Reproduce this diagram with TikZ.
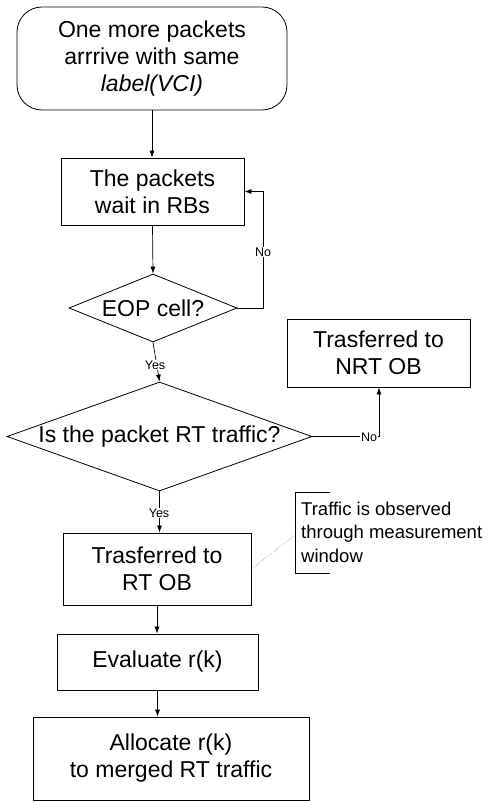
\documentclass[tikz,border=0pt]{standalone}
\usepackage{fontspec}
\setmainfont{Liberation Sans}
\usetikzlibrary{shapes.geometric,arrows.meta}
\newcommand\dgbox{\fontsize{23}{27}\selectfont}
\newcommand\dgtag{\fontsize{12.5}{14}\selectfont}
\newcommand\dgnote{\fontsize{18.5}{23.5}\selectfont}
\begin{document}
\begin{tikzpicture}[x=1pt,y=-1pt,
  every node/.style={inner sep=0pt},
  proc/.style={draw, line width=0.8pt, rectangle, align=center, font=\dgbox},
  term/.style={proc, rounded corners=25pt},
  decide/.style={draw, line width=0.8pt, diamond},
  dtext/.style={font=\dgbox},
  tag/.style={font=\dgtag, fill=white, inner sep=1pt},
  arr/.style={line width=0.7pt, -{Latex[length=7pt,width=5pt]}},
  wire/.style={line width=0.7pt},
  note/.style={font=\dgnote, align=left, anchor=west}]
\useasboundingbox (0,0) rectangle (502,802);

% boxes
\node[term, minimum width=270pt, minimum height=103pt] (start) at (152,58.5)
  {One more packets\\arrrive with same\\{\itshape label(VCI)}};
\node[proc, minimum width=183pt, minimum height=67pt] (wait) at (152.5,191.5)
  {The packets\\wait in RBs};
\node[decide, minimum width=168pt, minimum height=68pt] (eop) at (153,308) {};
\node[dtext] (eoptxt) at (eop.center) {EOP cell?};
\node[decide, minimum width=305pt, minimum height=109pt] (rt) at (159.5,436.5) {};
\node[dtext] (rttxt) at (rt.center) {Is the packet RT traffic?};
\node[proc, minimum width=183pt, minimum height=68pt] (nrt) at (378.5,353)
  {Trasferred to\\NRT OB};
\node[proc, minimum width=188pt, minimum height=72pt] (rtob) at (157,569)
  {Trasferred to\\RT OB};
\node[proc, minimum width=201pt, minimum height=56pt] (eval) at (157.5,662)
  {Evaluate r(k)};
\node[proc, minimum width=276pt, minimum height=83pt] (alloc) at (171,758.5)
  {Allocate r(k)\\to merged RT traffic};

% connectors
\draw[arr] (start.south) -- (start.south |- wait.north);
\draw[arr] (wait.south) -- (eop.north);
\coordinate (loopA) at (263,308);
\coordinate (loopB) at (263,191.5);
\draw[arr] (eop.east) -- (loopA) -- (loopB) -- (wait.east);
\node[tag] (no1) at (263,252) {No};

\draw[arr] (eop.south) -- (rt.north);
\node[tag] (yes1) at (155,365) {Yes};

\coordinate (noC) at (379,436.5);
\draw[wire] (rt.east) -- (noC);
\draw[arr] (noC) -- (noC |- nrt.south);
\node[tag] (no2) at (369,437) {No};

\draw[arr] (rt.south) -- (rt.south |- rtob.north);
\node[tag] (yes2) at (159,513) {Yes};
\draw[arr] (rtob.south) -- (rtob.south |- eval.north);
\draw[arr] (eval.south) -- (eval.south |- alloc.north);

% annotation
\coordinate (brT) at (330,492);
\coordinate (brTL) at (295,492);
\coordinate (brBL) at (295,573);
\coordinate (brB) at (330,573);
\coordinate (dotB) at (295,535);
\draw[line width=0.5pt] (brT) -- (brTL) -- (brBL) -- (brB);
\draw[densely dotted, gray, line width=0.5pt] (rtob.east) -- (dotB);
\node[note] (obs) at (301,532) {Traffic is observed\\through measurement\\window};
\end{tikzpicture}
\end{document}
